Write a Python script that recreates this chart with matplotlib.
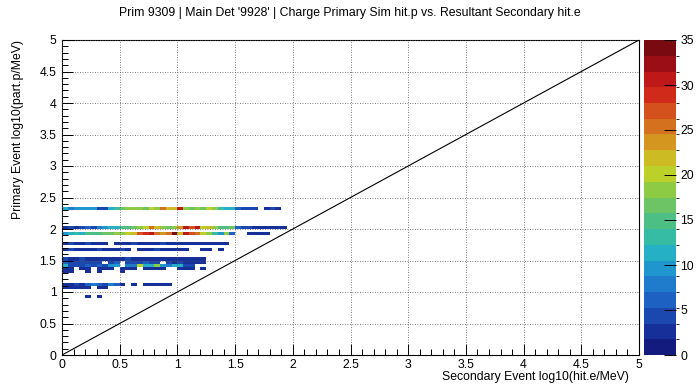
import numpy as np
import matplotlib
matplotlib.use("Agg")
import matplotlib.pyplot as plt
from matplotlib.colors import ListedColormap, BoundaryNorm
from matplotlib.ticker import MultipleLocator

plt.rcParams['font.family'] = ['Liberation Sans', 'DejaVu Sans']

title = "Prim 9309 | Main Det '9928' | Charge Primary Sim hit.p vs. Resultant Secondary hit.e"
x_label = "Secondary Event log10(hit.e/MeV)"
y_label = "Primary Event log10(part.p/MeV)"

bin_width = 0.05
axis_max = 5.0
z_max = 35
cbar_ticks = [0, 5, 10, 15, 20, 25, 30, 35]
axis_ticks = [0, 0.5, 1, 1.5, 2, 2.5, 3, 3.5, 4, 4.5, 5]

# lower y-edge of each populated row; counts per x bin starting at x = 0
row_y = [2.30, 2.00, 1.90, 1.75, 1.65, 1.50, 1.45, 1.40, 1.35, 1.30, 1.10, 1.05, 0.90]
counts_230 = [12, 8, 9, 10, 9, 10, 5, 4, 12, 13, 17, 19, 18, 19, 17, 20, 19, 26, 22, 21,
              31, 18, 17, 19, 16, 20, 19, 13, 11, 12, 6, 5, 5, 4, 0, 3, 4, 3]
counts_200 = [3, 4, 3, 5, 6, 5, 7, 9, 11, 12, 14, 15, 17, 19, 20, 26, 22, 18, 17, 19,
              24, 31, 27, 30, 20, 21, 19, 14, 15, 17, 6, 5, 4, 3, 3, 3, 2, 3, 2]
counts_190 = [9, 12, 13, 12, 14, 15, 14, 16, 17, 18, 19, 20, 21, 27, 29, 30, 26, 23, 25, 35,
              22, 30, 27, 25, 20, 19, 13, 10, 18, 6, 0, 0, 3, 2, 3, 3]
counts_175 = [3, 4, 3, 2, 4, 3, 2, 3, 0, 2, 3, 3, 4, 3, 2, 3, 3, 4, 2, 3,
              3, 2, 3, 2, 3, 2, 2, 3, 2]
counts_165 = [3, 4, 3, 2, 3, 3, 4, 3, 2, 3, 4, 3, 0, 3, 2, 3, 4, 3, 2, 3,
              2, 3, 0, 0, 2, 2, 0, 2]
counts_150 = [4, 3, 3, 4, 3, 2, 3, 3, 2, 3, 3, 4, 3, 2, 3, 3, 2, 2, 3, 2,
              3, 2, 2, 3, 2]
counts_145 = [6, 5, 4, 5, 4, 5, 4, 0, 5, 6, 0, 5, 4, 5, 6, 4, 5, 0, 4, 3,
              4, 3, 2, 3, 2]
counts_140 = [11, 5, 4, 5, 6, 4, 6, 5, 9, 10, 0, 7, 8, 20, 12, 11, 19, 10, 8, 11,
              11, 5, 4]
counts_135 = [3, 2, 0, 3, 2, 0, 3, 2, 3, 0, 2, 3, 2, 0, 3, 2, 3, 2, 0, 0,
              2, 3, 2, 0, 2]
counts_130 = [2, 2, 0, 0, 2, 0, 2, 0, 0, 0, 2]
counts_110 = [3, 3, 4, 3, 6, 7, 6, 5, 7, 6, 3, 0, 3, 0, 3, 2, 3, 2, 3]
counts_105 = [3, 2, 3, 2, 3, 0, 3, 3]
counts_090 = [0, 0, 0, 0, 3, 0, 3]
row_counts = [counts_230, counts_200, counts_190, counts_175, counts_165, counts_150,
              counts_145, counts_140, counts_135, counts_130, counts_110, counts_105,
              counts_090]

palette = ['#131c7e', '#172f98', '#1a48ae', '#1d62c2', '#1f7ccc', '#2096cf', '#25b0c6',
           '#36bba4', '#4dbf84', '#6cc464', '#8ecb45', '#bcd02a', '#cdbb24', '#d4961f',
           '#d4711e', '#d4501c', '#cf2a1a', '#bf1818', '#9c0e15', '#7a0a12']

n_bins = int(round(axis_max / bin_width))
edges = np.linspace(0, axis_max, n_bins + 1)
H = np.zeros((n_bins, n_bins))
for yv, cnt in zip(row_y, row_counts):
    iy = int(round(yv / bin_width))
    H[iy, :len(cnt)] = cnt
Hm = np.ma.masked_where(H <= 0, H)

cmap = ListedColormap(palette)
levels = np.linspace(0, z_max, len(palette) + 1)
norm = BoundaryNorm(levels, cmap.N)

FS = 8.8
W, Hpx = 699, 384
fig = plt.figure(figsize=(W / 100, Hpx / 100), dpi=100)
ax = fig.add_axes([62 / W, 1 - 355 / Hpx, 577 / W, 315 / Hpx])
mesh = ax.pcolormesh(edges, edges, Hm, cmap=cmap, norm=norm, zorder=1)
ax.set_xlim(0, axis_max)
ax.set_ylim(0, axis_max)
ax.set_xticks(axis_ticks)
ax.set_yticks(axis_ticks)
ax.set_xticklabels([('%g' % t) for t in axis_ticks])
ax.set_yticklabels([('%g' % t) for t in axis_ticks])
ax.xaxis.set_minor_locator(MultipleLocator(0.1))
ax.yaxis.set_minor_locator(MultipleLocator(0.1))
ax.tick_params(which='major', direction='in', length=8, width=0.7, labelsize=FS,
               top=False, right=False)
ax.tick_params(axis='x', which='major', pad=3)
ax.tick_params(axis='y', which='major', pad=4)
ax.tick_params(which='minor', direction='in', length=4, width=0.7, top=False, right=False)
ax.grid(True, which='major', color='#555555', linestyle=(0, (1, 2)), linewidth=0.6, zorder=2)
ax.set_axisbelow(False)
diag = [0, axis_max]
ax.plot(diag, diag, color='black', linewidth=0.8, zorder=3)
for s in ax.spines.values():
    s.set_linewidth(0.8)

fig.text(0.5, 1 - 13 / Hpx, title, ha='center', va='center', fontsize=FS)
fig.text(629 / W, 1 - 383 / Hpx, x_label, ha='right', va='bottom', fontsize=FS)
fig.text(18 / W, 1 - 40 / Hpx, y_label, ha='center', va='top', rotation=90, fontsize=FS)

cax = fig.add_axes([644 / W, 1 - 355 / Hpx, 32 / W, 315 / Hpx])
cb = fig.colorbar(mesh, cax=cax, ticks=cbar_ticks)
cb.outline.set_visible(False)
cax.tick_params(direction='in', length=9, width=0.7, labelsize=FS, right=True, pad=3,
                color='black')
cax.set_ylim(0, z_max)

fig.savefig('out.png', dpi=100)
